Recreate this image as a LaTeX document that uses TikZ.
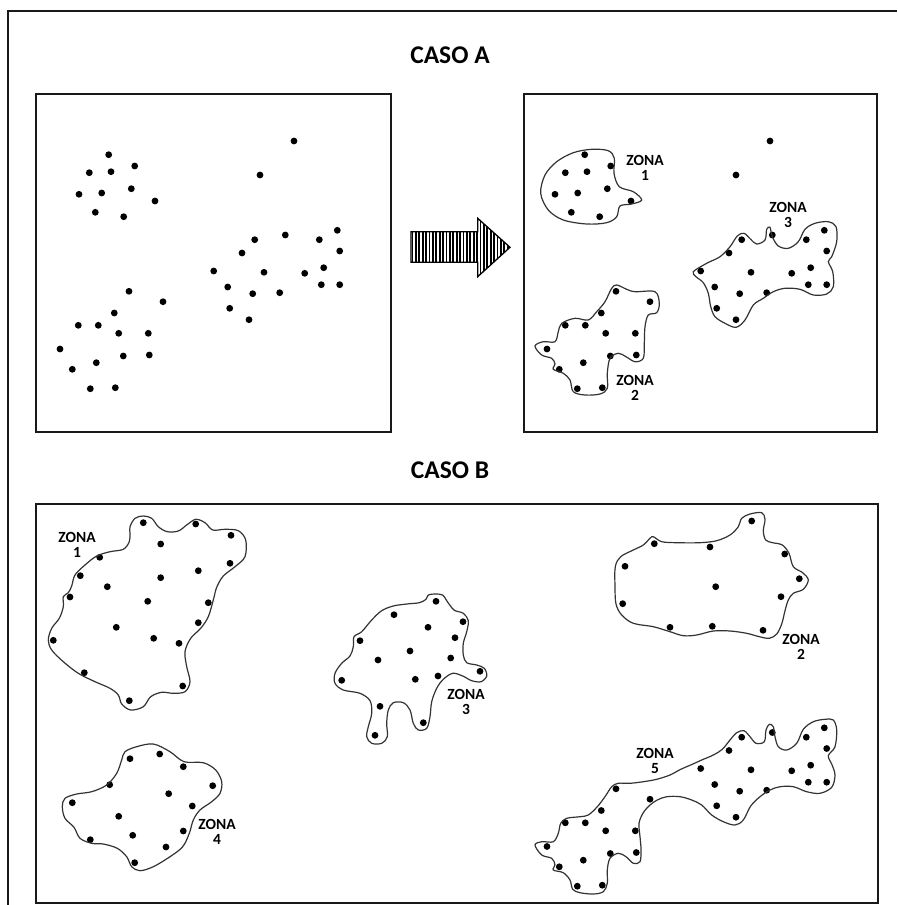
\documentclass[tikz,border=0pt]{standalone}
\usepackage{fontspec}
\setmainfont{Carlito}
\begin{document}
\begin{tikzpicture}[x=1pt,y=-1pt,
  frame/.style={draw=black!90,line width=2pt},
  pt/.style={fill=black},
  zone/.style={draw=black!80,line width=1.2pt,smooth cycle,tension=0.55},
  title/.style={font=\bfseries\fontsize{25.5}{28}\selectfont},
  zlabel/.style={font=\bfseries\fontsize{15.5}{15.5}\selectfont,align=center}]
\useasboundingbox (0,0) rectangle (897,905);

% point clouds
\def\clusterOne{108.7/154.7,89.3/172.7,111/171.7,134.7/166,79/194.3,101.7/193,131.3/188.7,155/201,95.3/212.3,123.7/216.7,294/141,260/175}
\def\clusterTwo{129/291.3,163/301.7,114.3/313,78.3/325.3,98.3/325.3,118.7/333.3,148.3/333.3,60/349,123.3/356,149.3/355,96.3/362.7,72.3/369.3,90.3/388.7,115.3/387.7}
\def\clusterThree{254.7/239.7,285.3/235,319.3/239.7,337.3/230.3,242/253,339.7/251,213.7/271,264/272.3,304.7/273.3,323.7/267.7,227.7/287,252.7/293.7,279.7/292.7,321.3/284.7,339.7/284.7,229.7/308.3,249/319.7}
\newcommand\drawcloud[1]{\foreach \a/\b in #1 {\fill[pt] (\a,\b) circle (3.4);}}

% outer frame
\draw[frame] (8,905) -- (8,11) -- (897,11);

% titles
\node[title] (casoA) at (450,55) {CASO A};
\node[title] (casoB) at (450,470) {CASO B};

% boxes
\draw[frame] (36,94) rectangle (391,432);
\draw[frame] (524,94) rectangle (877,432);
\draw[frame] (36,504) rectangle (878,903);

% ---- left box: raw points
\drawcloud{\clusterOne}
\drawcloud{\clusterTwo}
\drawcloud{\clusterThree}

% ---- striped arrow
\def\arrowpath{(411,231.7) -- (477.7,231.7) -- (477.7,218.3) -- (510,247.3) -- (477.7,276.7) -- (477.7,262.3) -- (411,262.3) -- cycle}
\begin{scope}
  \clip \arrowpath;
  \foreach \x in {412.5,415.9,...,512} \draw[line width=1.8pt] (\x,210) -- (\x,285);
\end{scope}
\draw[line width=1.3pt,line join=miter] \arrowpath;

% ---- right box: zones
\begin{scope}[shift={(476,0)}]
  \drawcloud{\clusterOne}
\end{scope}
\begin{scope}[shift={(487,0)}]
  \drawcloud{\clusterTwo}
  \drawcloud{\clusterThree}
\end{scope}

\draw[zone] plot coordinates {(540.7,193.3) (545,175) (556.7,161.7) (573.3,152.7) (591.7,149.3) (608.3,150.7) (614.3,158.3) (614,173.3) (619.3,186.7) (633.3,191.7) (641.7,200) (631.7,204) (620,206) (616.7,216.7) (606.7,222.7) (586.7,224) (563.3,220) (548.3,210)};

\draw[zone] plot coordinates {(616.7,285) (626.7,289.3) (635,291.7) (655,291.7) (659.3,303.3) (656.7,312.7) (648.3,315) (645,326.7) (644.3,343.3) (643.3,358.3) (635,361.7) (626,356.7) (618.3,353.3) (610,358.3) (607.3,373.3) (607.3,388.3) (600,394) (585,395) (573.3,391.7) (570,380) (563.3,373.3) (553.3,369.3) (555,364) (551.7,358.3) (541.7,355) (535,346) (543.3,341.7) (555,341.7) (558.3,331.7) (561.7,323.3) (575,318.3) (588.3,320) (596.7,311.7) (605,301.7) (611.7,288.3)};

\draw[zone] plot coordinates {(693.3,271.7) (706.7,263.3) (720,256.7) (730,246.7) (737.3,236) (744,233.3) (750.7,239.3) (756.7,244) (765,240) (766.7,229.3) (770,227.3) (772.3,236.7) (778.3,246) (788.3,248.3) (798.3,241.7) (805,229.3) (815,223.3) (828.3,221.7) (836,226.7) (836.7,241.7) (831.7,256.7) (828.3,261.7) (832.7,271.7) (833.3,286.7) (826.7,294) (813.3,295) (800,289.3) (785,288.3) (773.3,291.7) (763.3,298.3) (753.3,305) (745,320) (736,327.3) (725,323.3) (715,316.7) (710.7,306.7) (708.3,293.3) (703.3,282.7) (696,276.7)};

\node[zlabel] (rz1) at (645,168) {ZONA\\1};
\node[zlabel] (rz2) at (635,388) {ZONA\\2};
\node[zlabel] (rz3) at (788,215) {ZONA\\3};

% ---- bottom box
% zone 1
\drawcloud{{143.3/522.7,195.7/524,231/535.3,160.7/544,99.7/557.3,230/563.3,80.3/575.7,198.3/570.7,160.7/577.7,107.3/586.7,70/597,147.7/601.3,208.3/602.7,198.3/622.7,116.3/627.3,153.7/638.3,179/643.3,53.3/640.3,84.3/672.7,182.7/686,129.3/700.7}}
\draw[zone] plot coordinates {(130,526.7) (135,518.3) (143.3,516) (151.7,518.3) (158.3,526.7) (167.3,531.7) (178.3,531) (186.7,525) (195.7,519.3) (205,522.7) (212.7,530) (225,529.3) (238.3,530.7) (245.7,540) (245,556.7) (235,566.7) (223.3,576) (216.7,587.3) (213.3,600) (208.3,616.7) (200.7,628.3) (190.7,638.3) (185,651.7) (186.7,666.7) (190,681.7) (185,691.7) (173.3,693.3) (161.7,692.3) (150.7,696.7) (143.3,706.7) (130.7,710) (121.7,704) (118.3,695) (110,688.3) (95,681.7) (78.3,673.3) (63.3,661.7) (51.7,650) (48.3,640) (51.7,628.3) (59.3,618.3) (63.3,606.7) (63.3,596.7) (68.3,592.7) (71.7,586) (75,575) (85,565) (96.7,556) (110,551.7) (123.3,549.3) (129.3,541.7) (130,533.3)};
\node[zlabel] (bz1) at (77,545) {ZONA\\1};

% zone 3
\drawcloud{{436/601.3,394/614.7,463/621.7,428/627.3,455/637.7,360/640.7,410/651,378/660,450.7/658,480/671.3,341.7/680.3,415.3/679.3,438/676,380/706.3,423.3/722.7,375/735.3}}
\draw[zone] plot coordinates {(428.3,595) (435,594) (442.7,595) (446.7,600.7) (454,610) (463.3,613.3) (468.3,620.7) (466.7,631.7) (463.3,643.3) (463.3,655) (466.7,662.7) (476.7,665) (484.3,668.3) (486.7,676) (481,681.7) (471.7,680.7) (462.7,676) (452.7,673.3) (443.3,679.3) (436.7,688.3) (431.7,701.7) (430,716.7) (426.7,728.3) (418.3,730) (413.3,723.3) (410,710) (403.3,702.7) (393.3,702.7) (388.3,710) (386.7,723.3) (387.3,736.7) (381.7,743.3) (371.7,743.3) (366.7,736.7) (368.3,726.7) (371.7,713.3) (370,700.7) (360,693.3) (343.3,690) (335,683.3) (335,673.3) (341.7,663.3) (350,656) (353.3,646.7) (354,636.7) (361.7,631.7) (371.7,620) (381.7,610.7) (393.3,606) (406.7,604) (419.3,602.7) (426,599.3)};
\node[zlabel] (bz3) at (466,702) {ZONA\\3};

% zone 2
\drawcloud{{751.7/521,654.3/543.7,710/547,784.7/554,625/566.3,799.3/578.7,715.7/586.7,781/596.7,622.7/603.7,670/627.3,712.3/626.3,763/630.3}}
\draw[zone] plot coordinates {(653.3,536.7) (661.7,541.7) (676.7,542.7) (700,542.7) (716.7,540.7) (730,535) (738.3,526.7) (741.7,518.3) (750,514) (761.7,512.7) (765,519.3) (763.3,530.7) (765.7,540) (772.7,542.7) (782.3,545) (789,553.3) (793.3,566.7) (802.7,572.7) (808.3,580) (803.3,589.3) (793.3,593.3) (788.3,600) (785,610.7) (781.7,624) (776.7,634) (769.3,638.3) (759.3,636.7) (746.7,633.3) (730,631) (713.3,631) (696.7,635) (683.3,635.7) (670,631.7) (653.3,626.7) (633.3,623.3) (621.7,615) (616,604) (615,586.7) (615.3,566.7) (620.7,556.7) (633.3,550) (643.3,545) (650,538.3)};
\node[zlabel] (bz2) at (801,647) {ZONA\\2};

% zone 4
\drawcloud{{130/758.7,159.7/754,183.3/766.7,109.7/784.7,212.7/785.7,168.7/793.7,72.3/802.7,192.3/806,118.7/816.3,183.3/831,90.3/839.7,132.7/835.3,166/847,134.7/862.7}}
\draw[zone] plot coordinates {(125,751.7) (136.7,746.7) (153.3,744) (170,751.7) (184,761.7) (203.3,762.7) (215.7,770) (221.7,781.7) (220,793.3) (211.7,801.7) (200,810) (193.3,820) (189.3,833.3) (182.7,846.7) (170,856.7) (153.3,866.7) (140,870.7) (131.7,866.7) (126.7,856.7) (117.3,848.3) (103.3,844) (91.7,843.3) (80,838.3) (74,827.3) (65,818.3) (62.3,806.7) (65,798.3) (76.7,794) (91.7,791.7) (106.7,785) (116.7,773.3) (121.7,760)};
\node[zlabel] (bz4) at (217,832) {ZONA\\4};

% zone 5
\begin{scope}[shift={(487,497.5)}]
  \drawcloud{\clusterTwo}
  \drawcloud{\clusterThree}
\end{scope}
\draw[zone] plot coordinates {(833.3,720) (836.7,730) (835,746.7) (828.3,755.7) (831.7,764) (835,775) (831.7,787.3) (820,793.3) (806.7,791.7) (793.3,786.7) (780,786.7) (770,790) (760,796.7) (750.7,806) (743.3,820) (735,825) (723.3,821.7) (711.7,815) (701.7,805) (691.7,800) (680,796.7) (666.7,796.7) (657.3,800) (650,805) (643.3,812.7) (639,823.3) (640,836.7) (641,849.3) (640,861.7) (633.3,863.3) (626,856.7) (618.3,853.3) (610,858.3) (607.3,870) (607.3,883.3) (603.3,891.7) (593.3,894) (580,892.7) (572.7,889.3) (570,880) (563.3,872.7) (553.3,870) (555,864.7) (551.7,858.3) (541.7,855) (535,845) (541.7,841.7) (553.3,841.7) (558.3,833.3) (560.7,823.3) (566.7,818.3) (580,816.7) (588.3,815) (597.3,806.7) (605,796.7) (611.7,786.7) (618.3,783.3) (630,783.3) (643.3,781.7) (656.7,779.3) (670,775) (680.7,769.3) (690.7,765) (701.7,760) (713.3,755) (722.3,749.3) (730,740) (736.7,732.7) (744,730.7) (750,736.7) (756,743.3) (764.3,741.7) (766,730) (769.3,724.3) (773.3,726.7) (775,736.7) (778.3,746.7) (786.7,750) (796.7,743.3) (803.3,729.3) (813.3,721.7) (825,719.3)};
\node[zlabel] (bz5) at (655,761) {ZONA\\5};
\end{tikzpicture}
\end{document}
